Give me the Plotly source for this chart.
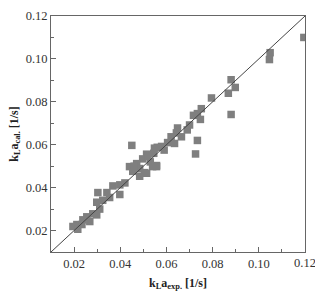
import plotly.graph_objects as go

kla_exp = [0.1195, 0.1049, 0.1046, 0.0880, 0.0898, 0.0868, 0.0880, 0.0795, 0.0751, 0.0734,
           0.0747, 0.0717, 0.0700, 0.0690, 0.0648, 0.0643, 0.0620, 0.0665, 0.0734, 0.0605,
           0.0635, 0.0560, 0.0579, 0.0548, 0.0726, 0.0557, 0.0450,
           0.0514, 0.0497, 0.0471, 0.0440, 0.0484, 0.0540, 0.0454, 0.0484, 0.0514, 0.0557,
           0.0530, 0.0505, 0.0460, 0.0520, 0.0545, 0.0590,
           0.0420, 0.0398, 0.0398, 0.0368, 0.0354, 0.0303, 0.0342, 0.0298, 0.0324, 0.0311,
           0.0281, 0.0255, 0.0238, 0.0268, 0.0212, 0.0195, 0.0234, 0.0216, 0.0298]
kla_cal = [0.1100, 0.1029, 0.0997, 0.0903, 0.0867, 0.0840, 0.0741, 0.0818, 0.0768, 0.0745,
           0.0718, 0.0737, 0.0692, 0.0669, 0.0678, 0.0655, 0.0637, 0.0637, 0.0620, 0.0610,
           0.0606, 0.0588, 0.0592, 0.0584, 0.0557, 0.0498, 0.0597,
           0.0556, 0.0534, 0.0512, 0.0498, 0.0489, 0.0498, 0.0476, 0.0453, 0.0467, 0.0503,
           0.0520, 0.0470, 0.0500, 0.0545, 0.0560, 0.0575,
           0.0422, 0.0413, 0.0368, 0.0408, 0.0354, 0.0377, 0.0377, 0.0332, 0.0341, 0.0300,
           0.0278, 0.0264, 0.0250, 0.0242, 0.0228, 0.0219, 0.0228, 0.0206, 0.0273]
diag = [0.01, 0.12]
x_ticks = [0.02, 0.04, 0.06, 0.08, 0.10, 0.12]
y_ticks = [0.02, 0.04, 0.06, 0.08, 0.10, 0.12]

fig = go.Figure()
fig.add_trace(go.Scatter(x=kla_exp, y=kla_cal, mode="markers",
                         marker=dict(symbol="square", size=7.5, color="#7f7f7f", line=dict(width=0))))
fig.add_trace(go.Scatter(x=diag, y=diag, mode="lines", line=dict(color="#444444", width=1)))

tfont = dict(family="Liberation Serif", size=12.5, color="#333333")
lfont = dict(family="Liberation Serif", size=12, color="#222222")
axis_common = dict(showline=True, linecolor="#666666", linewidth=1, mirror=True,
                   showgrid=False, zeroline=False, ticks="inside", ticklen=5, tickcolor="#666666",
                   minor=dict(ticks="inside", ticklen=3, dtick=0.01, tickcolor="#666666"),
                   tickfont=tfont)
fig.update_xaxes(range=[0.01, 0.12], tickvals=x_ticks[:-1], ticktext=[f"{v:.2f}" for v in x_ticks[:-1]],
                 title=dict(text="<b>k<sub>L</sub>a<sub>exp.</sub> [1/s]</b>", font=lfont, standoff=8),
                 **axis_common)
fig.update_yaxes(range=[0.01, 0.12], tickvals=y_ticks, ticktext=[f"{v:.2f}" for v in y_ticks],
                 title=dict(text="<b>k<sub>L</sub>a<sub>cal.</sub> [1/s]</b>", font=lfont, standoff=4),
                 **axis_common)
# last x tick label (cut by the page edge in the reference)
fig.add_annotation(x=x_ticks[-1], xref="x", y=0, yref="paper", yanchor="top", yshift=-2,
                   text=f"{x_ticks[-1]:.2f}", showarrow=False, font=tfont)
fig.update_layout(width=315, height=296, margin=dict(l=51, r=9, t=12, b=40),
                  plot_bgcolor="white", paper_bgcolor="white", showlegend=False)
fig.write_html("out.html")
